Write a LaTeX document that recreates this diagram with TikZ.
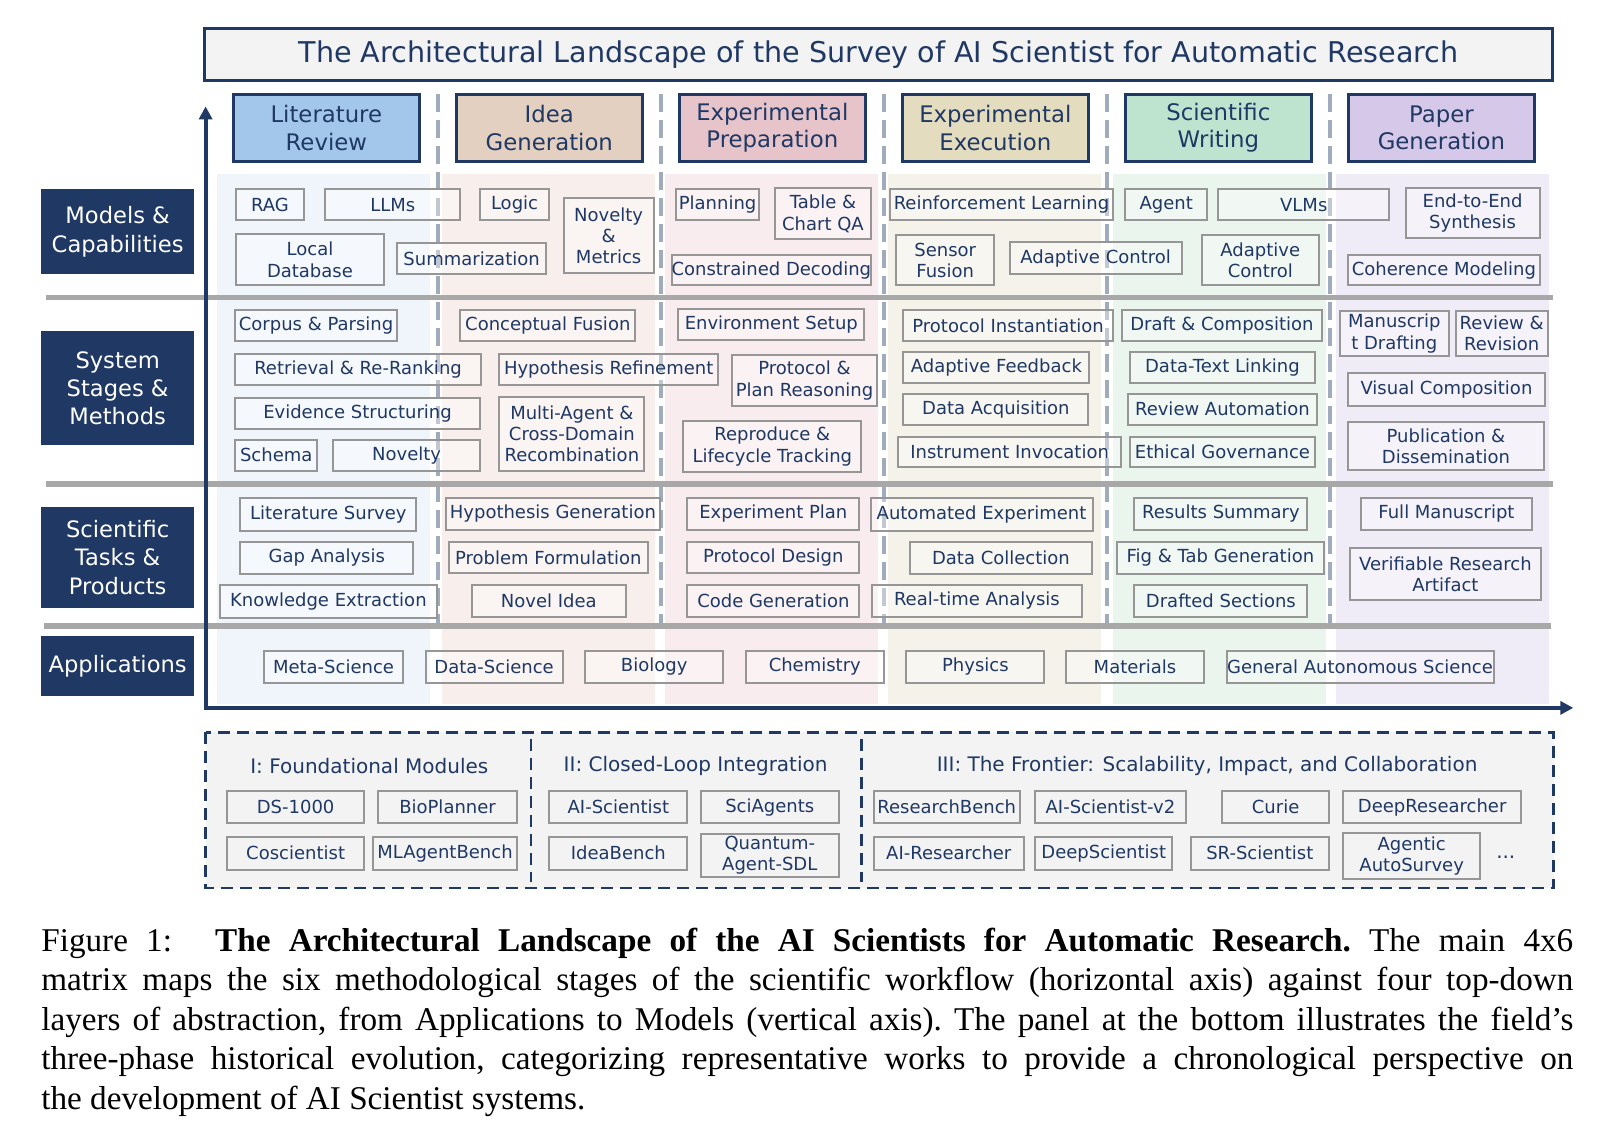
\documentclass[tikz,border=0pt]{standalone}
\usepackage{fontspec}
\setmainfont{Liberation Serif}
\newfontfamily\comic{DejaVu Sans}
\usetikzlibrary{positioning, arrows.meta}

\definecolor{navy}{RGB}{31,56,100}
\definecolor{itemgray}{RGB}{150,150,150}
\definecolor{sepgray}{RGB}{168,168,168}
\definecolor{dashgray}{RGB}{160,172,190}
\definecolor{panelgray}{RGB}{243,243,243}
% header fills
\definecolor{hlit}{RGB}{163,199,235}
\definecolor{hidea}{RGB}{228,208,192}
\definecolor{hprep}{RGB}{230,196,202}
\definecolor{hexec}{RGB}{228,220,190}
\definecolor{hwrit}{RGB}{190,228,208}
\definecolor{hpaper}{RGB}{214,200,232}
% column tints
\definecolor{clit}{RGB}{240,245,251}
\definecolor{cidea}{RGB}{248,239,236}
\definecolor{cprep}{RGB}{248,236,238}
\definecolor{cexec}{RGB}{245,242,234}
\definecolor{cwrit}{RGB}{234,245,238}
\definecolor{cpaper}{RGB}{240,236,247}

\newcommand\itemfont{\comic\fontsize{9}{10.6}\selectfont}
\newcommand\phasefont{\comic\fontsize{10}{12}\selectfont}
\newcommand\headfont{\comic\fontsize{11.4}{13.8}\selectfont}
\newcommand\rowfont{\comic\fontsize{11.3}{14.2}\selectfont}
\newcommand\titlefont{\comic\fontsize{14.3}{17}\selectfont}
\newcommand\captfont{\fontsize{16.6}{19.7}\selectfont\frenchspacing}

\begin{document}
\begin{tikzpicture}[
  x=0.51148pt, y=-0.51148pt,
  wd/.style       = {minimum width=#1*0.51148pt},
  ht/.style       = {minimum height=#1*0.51148pt},
  item/.style     = {draw=itemgray, line width=1pt, fill=white, fill opacity=0.35, text opacity=1,
                     text=navy, font=\itemfont, align=center, inner sep=0pt, ht=30},
  work/.style     = {item, fill=panelgray, fill opacity=1, ht=32},
  head/.style     = {draw=navy, line width=1.4pt, text=navy, font=\headfont, align=center,
                     inner sep=0pt, wd=182, ht=66},
  rowlab/.style   = {fill=navy, text=white, font=\rowfont, align=center, inner sep=0pt, wd=150},
  titlebox/.style = {draw=navy, line width=1.4pt, fill=panelgray, text=navy, font=\titlefont, inner sep=0pt},
  colsep/.style   = {draw=dashgray, line width=1.8pt, dash pattern=on 9pt off 4pt},
  rowsep/.style   = {draw=sepgray, line width=2.8pt},
  phasesep/.style = {draw=navy, line width=1.4pt, dash pattern=on 6pt off 3.5pt},
  axis/.style     = {draw=navy, line width=2pt, {Triangle[length=6.5pt,width=6.5pt]}-{Triangle[length=6.5pt,width=6.5pt]}},
  ]
  \useasboundingbox (0,0) rectangle (1568,1105.6);

  % Column tints
  \fill[clit]   (212,170) rectangle (420,688);
  \fill[cidea]  (432,170) rectangle (640,688);
  \fill[cprep]  (650,170) rectangle (858,688);
  \fill[cexec]  (868,170) rectangle (1076,688);
  \fill[cwrit]  (1088,170) rectangle (1296,688);
  \fill[cpaper] (1306,170) rectangle (1514,688);

  % Stage separators and layer separators
  \foreach \sx in {428,646,864,1082,1300}
    \draw[colsep] (\sx,92) -- (\sx,612);
  \foreach \sy/\sa/\sb in {291/45/1518, 473/45/1518, 612/43/1516}
    \draw[rowsep] (\sa,\sy) -- (\sb,\sy);

  % Axes
  \coordinate (origin) at (201,692);
  \coordinate (ytip)   at (201,104);
  \coordinate (xtip)   at (1538,692);
  \draw[axis] (ytip) -- (origin) -- (xtip);

  % Title
  \node (title) at (859,53.5) [titlebox, wd=1318, ht=51]
    {The Architectural Landscape of the Survey of AI Scientist for Automatic Research};

  % Stage headers
  \node (lit)   at (319,125)  [head, fill=hlit]   {Literature\\Review};
  \node (idea)  at (537,125)  [head, fill=hidea]  {Idea\\Generation};
  \node (prep)  at (755,125)  [head, fill=hprep]  {Experimental\\Preparation};
  \node (exec)  at (973,125)  [head, fill=hexec]  {Experimental\\Execution};
  \node (writ)  at (1191,125) [head, fill=hwrit]  {Scientific\\Writing};
  \node (paper) at (1409,125) [head, fill=hpaper] {Paper\\Generation};

  % Layer labels
  \node (models)  at (115,226.5) [rowlab, ht=83]  {Models \&\\Capabilities};
  \node (methods) at (115,379.5) [rowlab, ht=111] {System\\Stages \&\\Methods};
  \node (tasks)   at (115,545)   [rowlab, ht=98]  {Scientific\\Tasks \&\\Products};
  \node (apps)    at (115,651)   [rowlab, ht=58]  {Applications};

  % Models & Capabilities
  \node (rag)      at (264,200)    [item, wd=66]         {RAG};
  \node (llms)     at (384,200)    [item, wd=132]        {LLMs};
  \node (localdb)  at (303,254)    [item, wd=144, ht=50] {Local\\Database};
  \node (summ)     at (461,253)    [item, wd=146]        {Summarization};
  \node (logic)    at (503,200)    [item, wd=68]         {Logic};
  \node (novmet)   at (595,230.5)  [item, wd=88, ht=73]  {Novelty\\\&\\Metrics};
  \node (plan)     at (701.5,200)  [item, wd=81]         {Planning};
  \node (tabqa)    at (804.5,209)  [item, wd=93, ht=50]  {Table \&\\Chart QA};
  \node (constdec) at (754,264)    [item, wd=194]        {Constrained Decoding};
  \node (rl)       at (979,200)    [item, wd=218]        {Reinforcement Learning};
  \node (sensor)   at (924,254.5)  [item, wd=96, ht=49]  {Sensor\\Fusion};
  \node (adactl)   at (1071,252.5) [item, wd=168, ht=31] {Adaptive Control};
  \node (agent)    at (1140,200)   [item, wd=80]         {Agent};
  \node (vlms)     at (1274.5,200) [item, wd=167]        {VLMs};
  \node (adactlb)  at (1232,254.5) [item, wd=114, ht=49] {Adaptive\\Control};
  \node (endtoend) at (1439.5,208.5) [item, wd=131, ht=49] {End-to-End\\Synthesis};
  \node (coher)    at (1411.5,264) [item, wd=187]        {Coherence Modeling};

  % System Stages & Methods
  \node (corpus)   at (309,318)    [item, wd=158]        {Corpus \& Parsing};
  \node (retr)     at (350,361)    [item, wd=240]        {Retrieval \& Re-Ranking};
  \node (evid)     at (349.5,404)  [item, wd=239]        {Evidence Structuring};
  \node (schema)   at (270,445)    [item, wd=80]         {Schema};
  \node (novel)    at (397.5,445)  [item, wd=143]        {Novelty};
  \node (concfus)  at (535.5,318)  [item, wd=171]        {Conceptual Fusion};
  \node (hypref)   at (595,361)    [item, wd=214]        {Hypothesis Refinement};
  \node (multiag)  at (559,424)    [item, wd=142, ht=72] {Multi-Agent \&\\Cross-Domain\\Recombination};
  \node (envset)   at (754,317)    [item, wd=182]        {Environment Setup};
  \node (protplan) at (786.5,372)  [item, wd=141, ht=50] {Protocol \&\\Plan Reasoning};
  \node (reprod)   at (755,436.5)  [item, wd=174, ht=49] {Reproduce \&\\Lifecycle Tracking};
  \node (protinst) at (985.5,318)  [item, wd=205]        {Protocol Instantiation};
  \node (adafb)    at (974,359)    [item, wd=182]        {Adaptive Feedback};
  \node (dataacq)  at (973.5,400)  [item, wd=181]        {Data Acquisition};
  \node (instinv)  at (987,442)    [item, wd=218]        {Instrument Invocation};
  \node (draftc)   at (1194.5,318) [item, wd=195]        {Draft \& Composition};
  \node (dtlink)   at (1195,359.5) [item, wd=180]        {Data-Text Linking};
  \node (revauto)  at (1195,400)   [item, wd=184]        {Review Automation};
  \node (ethgov)   at (1195,442)   [item, wd=180]        {Ethical Governance};
  \node (manud)    at (1363,326)   [item, wd=106, ht=44] {Manuscrip\\t Drafting};
  \node (revrev)   at (1468,326)   [item, wd=90, ht=44]  {Review \&\\Revision};
  \node (viscomp)  at (1414,381)   [item, wd=192, ht=32] {Visual Composition};
  \node (pubdis)   at (1413.5,436) [item, wd=191, ht=46] {Publication \&\\Dissemination};

  % Scientific Tasks & Products
  \node (litsurv)  at (321,503)    [item, wd=172, ht=32] {Literature Survey};
  \node (gapan)    at (319.5,545.5) [item, wd=169, ht=31] {Gap Analysis};
  \node (knowex)   at (321,588)    [item, wd=212, ht=32] {Knowledge Extraction};
  \node (hypgen)   at (540.5,502.5) [item, wd=209, ht=31] {Hypothesis Generation};
  \node (probf)    at (536,545)    [item, wd=194]        {Problem Formulation};
  \node (novidea)  at (536.5,587.5) [item, wd=151, ht=31] {Novel Idea};
  \node (expplan)  at (756,502.5)  [item, wd=168, ht=31] {Experiment Plan};
  \node (protdes)  at (756,545)    [item, wd=168]        {Protocol Design};
  \node (codegen)  at (756,587.5)  [item, wd=168, ht=31] {Code Generation};
  \node (autoexp)  at (959.5,503)  [item, wd=217, ht=32] {Automated Experiment};
  \node (datacol)  at (978.5,545.5) [item, wd=177, ht=31] {Data Collection};
  \node (rtana)    at (955,587.5)  [item, wd=206, ht=31] {Real-time Analysis};
  \node (ressum)   at (1193.5,502.5) [item, wd=169, ht=31] {Results Summary};
  \node (figtab)   at (1193,545.5) [item, wd=202, ht=31] {Fig \& Tab Generation};
  \node (drafted)  at (1193.5,587.5) [item, wd=169, ht=31] {Drafted Sections};
  \node (fullman)  at (1414,502.5) [item, wd=168, ht=31] {Full Manuscript};
  \node (verif)    at (1413,561.5) [item, wd=186, ht=51] {Verifiable Research\\Artifact};

  % Applications
  \node (meta)  at (326,652)    [item, wd=136, ht=32] {Meta-Science};
  \node (dsci)  at (483,652)    [item, wd=134, ht=32] {Data-Science};
  \node (bio)   at (639.5,652)  [item, wd=135, ht=32] {Biology};
  \node (chem)  at (796.5,652)  [item, wd=135, ht=32] {Chemistry};
  \node (phys)  at (953.5,652)  [item, wd=135, ht=32] {Physics};
  \node (mat)   at (1109.5,652) [item, wd=135, ht=32] {Materials};
  \node (gen)   at (1329.5,652) [item, wd=261, ht=32] {General Autonomous Science};

  % Historical phases
  \draw[phasesep, fill=panelgray] (201,716) rectangle (1519,868);
  \draw[phasesep] (519,722) -- (519,862);
  \draw[phasesep] (842,722) -- (842,862);
  \node (phaseI)   at (361,749)  [text=navy, font=\phasefont] {I: Foundational Modules};
  \node (phaseII)  at (680,749)  [text=navy, font=\phasefont] {II: Closed-Loop Integration};
  \node (phaseIII) at (1180,749) [text=navy, font=\phasefont] {III: The Frontier: Scalability, Impact, and Collaboration};

  \node (ds)      at (289,789)    [work, wd=134] {DS-1000};
  \node (biop)    at (437.5,789)  [work, wd=135] {BioPlanner};
  \node (cosci)   at (289,834)    [work, wd=134] {Coscientist};
  \node (mlab)    at (435,834)    [work, wd=140] {MLAgentBench};
  \node (aisci)   at (604.5,789)  [work, wd=135] {AI-Scientist};
  \node (sciag)   at (752.5,789)  [work, wd=135] {SciAgents};
  \node (ideab)   at (604.5,834)  [work, wd=135] {IdeaBench};
  \node (qsdl)    at (752.5,836)  [work, wd=135, ht=42] {Quantum-\\Agent-SDL};
  \node (resb)    at (925.5,789)  [work, wd=143] {ResearchBench};
  \node (aisciv)  at (1085.5,789) [work, wd=147] {AI-Scientist-v2};
  \node (curie)   at (1247,789)   [work, wd=104] {Curie};
  \node (deepr)   at (1400,789)   [work, wd=174] {DeepResearcher};
  \node (airesr)  at (927.5,834)  [work, wd=147] {AI-Researcher};
  \node (deeps)   at (1079,834)   [work, wd=134] {DeepScientist};
  \node (srsci)   at (1231.5,834) [work, wd=135] {SR-Scientist};
  \node (autosv)  at (1380,836.5) [work, wd=134, ht=45] {Agentic\\AutoSurvey};
  \node (more)    at (1472,838)   [text=navy, font=\phasefont] {...};

  % Caption
  \node (caption) at (40,907) [anchor=north west, inner sep=0pt, text width=766pt, align=justify, font=\captfont]
    {Figure 1:\hspace{1.3em}\textbf{The Architectural Landscape of the AI Scientists for Automatic Research.} The main 4x6\linebreak
     matrix maps the six methodological stages of the scientific workflow (horizontal axis) against four top-down\linebreak
     layers of abstraction, from Applications to Models (vertical axis). The panel at the bottom illustrates the field’s\linebreak
     three-phase historical evolution, categorizing representative works to provide a chronological perspective on\linebreak
     the development of AI Scientist systems.};
\end{tikzpicture}
\end{document}
